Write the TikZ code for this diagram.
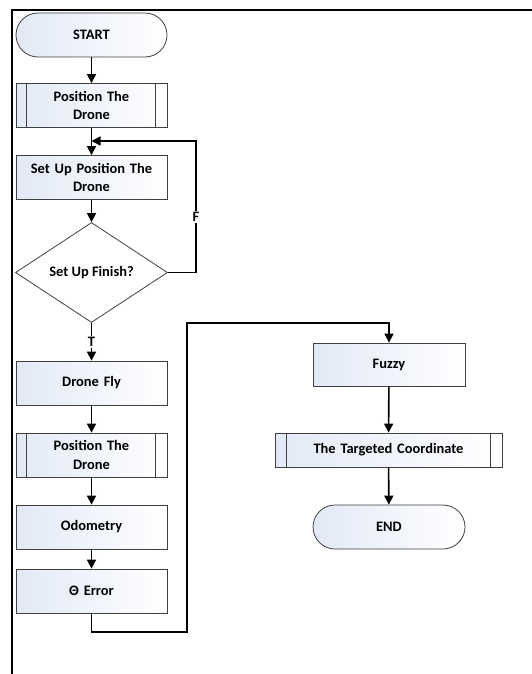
\documentclass[tikz,border=0pt]{standalone}
\usepackage{fontspec}
\setmainfont{Carlito}
\usepackage{tikz}
\usetikzlibrary{positioning}
\usetikzlibrary{shapes.geometric}
\usetikzlibrary{arrows.meta}
\definecolor{boxblue}{RGB}{226,233,246}

\begin{document}
\begin{tikzpicture}[x=1bp, y=-1bp,
  font=\fontsize{14.5}{19}\selectfont\bfseries,
  box/.style={draw=black!75, line width=0.8bp, left color=boxblue, right color=white,
    minimum width=151bp, minimum height=44bp, inner sep=1bp, align=center, text width=149bp},
  term/.style={box, rounded corners=22bp},
  decide/.style={draw=black!75, line width=0.8bp, diamond, aspect=1.52, inner sep=0pt,
    minimum width=152bp, minimum height=100bp, fill=white},
  flow/.style={line width=1.6bp, -{Triangle[width=9bp,length=9bp]}}]
\useasboundingbox (0,0) rectangle (532,674);
% frame
\draw[line width=2bp] (12,674) -- (12,10) -- (532,10);

% left column
\node[term] (S1) at (91.5,35) {START};
\node[box] (P1) at (91.5,105.5) {Position The\\Drone};
\node[box] (U1) at (91.5,177.5) {Set Up Position The\\Drone};
\node[decide] (D1) at (91.5,272.5) {Set Up Finish?};
\node[box] (F1) at (91.5,383) {Drone Fly};
\node[box] (P2) at (91.5,455) {Position The\\Drone};
\node[box] (O1) at (91.5,527) {Odometry};
\node[box] (E1) at (91.5,591) {Θ Error};

% right column
\node[box, minimum width=152bp, minimum height=43bp] (Z1) at (389,364.5) {Fuzzy};
\node[box, minimum width=227bp, minimum height=34bp, text width=210bp] (C1) at (388.5,450) {The Targeted Coordinate};
\node[term, minimum width=152bp] (N1) at (389,527) {END};

% predefined process bars
\foreach \p in {P1,P2}{
  \draw[black!75, line width=0.8bp] ([xshift=11bp]\p.north west) -- ([xshift=11bp]\p.south west);
  \draw[black!75, line width=0.8bp] ([xshift=-12bp]\p.north east) -- ([xshift=-12bp]\p.south east);
}
\draw[black!75, line width=0.8bp] ([xshift=12bp]C1.north west) -- ([xshift=12bp]C1.south west);
\draw[black!75, line width=0.8bp] ([xshift=-12bp]C1.north east) -- ([xshift=-12bp]C1.south east);

% helper points
\coordinate (J1) at (91.5,141);
\coordinate (L1) at (196,141);
\coordinate (K1) at (187,632);
\coordinate (K2) at (187,323);

% connectors
\draw[flow] (S1) -- (P1);
\draw[flow] (P1) -- (U1);
\draw[flow] (U1) -- (D1);
\draw[flow] (D1.east) -| (L1) node[pos=0.71, fill=white, inner sep=1.5bp] {F} -- (J1);
\draw[flow] (D1.south) -- (F1) node[midway, fill=white, inner sep=1.5bp] {T};
\draw[flow] (F1) -- (P2);
\draw[flow] (P2) -- (O1);
\draw[flow] (O1) -- (E1);
\draw[flow] (E1.south) |- (K1) -- (K2) -| (Z1.north);
\draw[flow] (Z1) -- (C1);
\draw[flow] (C1) -- (N1);
\end{tikzpicture}
\end{document}
